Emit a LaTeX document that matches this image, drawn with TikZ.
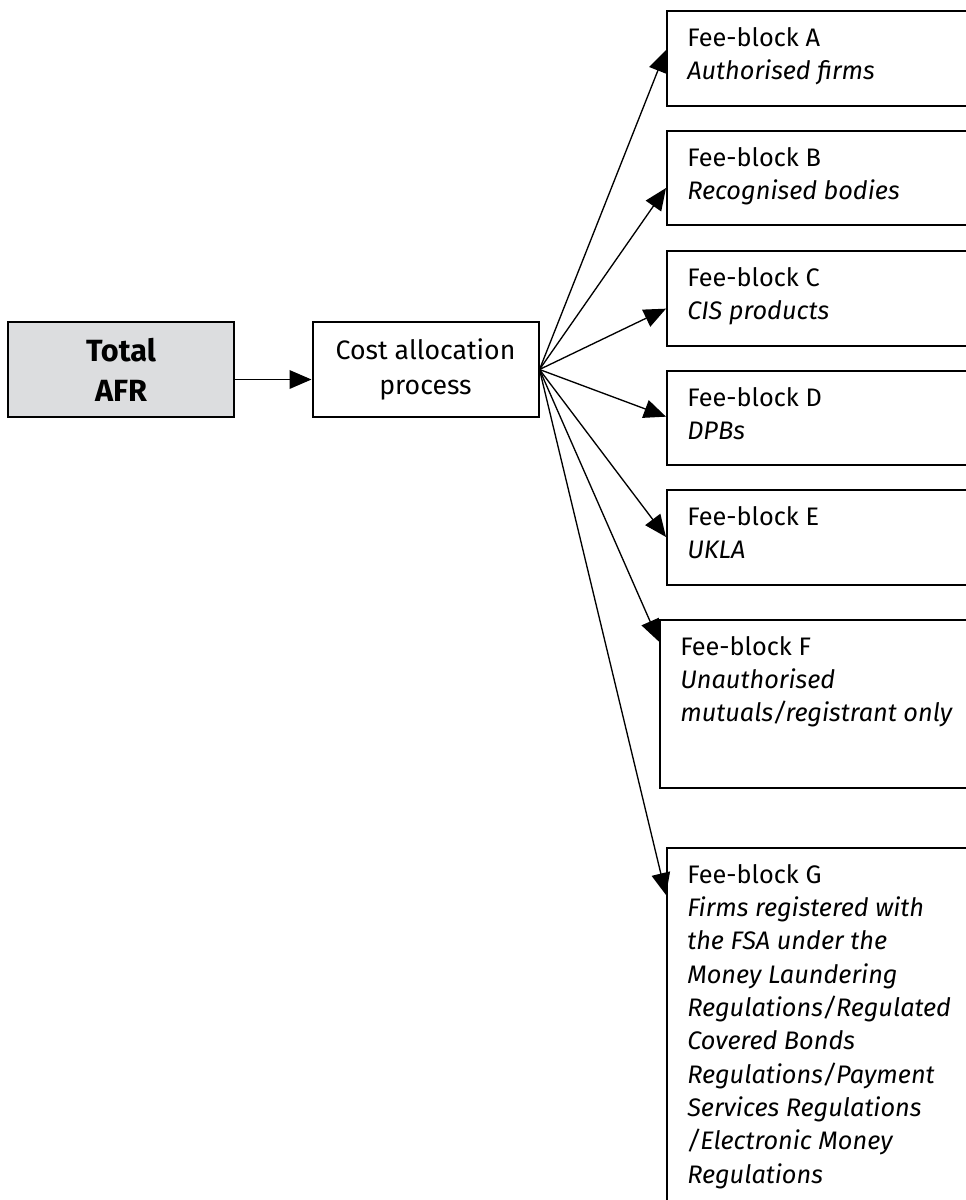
\documentclass[tikz,border=0pt]{standalone}
\usepackage{fontspec}
\setmainfont{Fira Sans}
\usetikzlibrary{arrows.meta}
\definecolor{afrgray}{RGB}{220,221,223}

\begin{document}
\begin{tikzpicture}
    [
    x=0.75pt,y=-0.75pt,
    afrbox/.style={draw,line width=1.5pt,fill=afrgray,minimum width=169.5pt,minimum height=71.25pt,align=center,font=\fontsize{23}{30}\selectfont\bfseries},
    procbox/.style={draw,line width=1.5pt,minimum width=169.5pt,minimum height=71.25pt,align=center,font=\fontsize{20}{26}\selectfont},
    feebox/.style={draw,line width=1.5pt,anchor=north west,minimum width=250pt,inner sep=0pt},
    feetext/.style={anchor=north west,align=left,inner sep=0pt,font=\fontsize{19}{25}\selectfont},
    flow/.style={line width=1pt,-{Triangle[length=16.5pt,width=14pt]}},
    ]
    \useasboundingbox (0,0) rectangle (966,1200);
    \clip (0,0) rectangle (966,1200);
    \node (total) at (121,369.5) [afrbox] {Total\\AFR};
    \node (cost) at (425.5,369.5) [procbox] {Cost allocation\\process};
    % fee-block boxes
    \node (feeA) at (666,10) [feebox,minimum height=71.25pt] {};
    \node (feeB) at (666,130) [feebox,minimum height=70.5pt] {};
    \node (feeC) at (666,250) [feebox,minimum height=71.25pt] {};
    \node (feeD) at (666,370) [feebox,minimum height=70.5pt] {};
    \node (feeE) at (666,489) [feebox,minimum height=71.25pt] {};
    \node (feeF) at (659,619) [feebox,minimum height=126pt] {};
    \node (feeG) at (666,847) [feebox,minimum height=290pt] {};
    \node (textA) at ([shift={(21,17)}]feeA.north west) [feetext] {Fee-block A\\\textit{Authorised firms}};
    \node (textB) at ([shift={(21,17)}]feeB.north west) [feetext] {Fee-block B\\\textit{Recognised bodies}};
    \node (textC) at ([shift={(21,17)}]feeC.north west) [feetext] {Fee-block C\\\textit{CIS products}};
    \node (textD) at ([shift={(21,17)}]feeD.north west) [feetext] {Fee-block D\\\textit{DPBs}};
    \node (textE) at ([shift={(21,17)}]feeE.north west) [feetext] {Fee-block E\\\textit{UKLA}};
    \node (textF) at ([shift={(21,17)}]feeF.north west) [feetext] {Fee-block F\\\textit{Unauthorised}\\\textit{mutuals/registrant only}};
    \node (textG) at ([shift={(21,17)}]feeG.north west) [feetext] {Fee-block G\\\textit{Firms registered with}\\\textit{the FSA under the}\\\textit{Money Laundering}\\\textit{Regulations/Regulated}\\\textit{Covered Bonds}\\\textit{Regulations/Payment}\\\textit{Services Regulations}\\\textit{/Electronic Money}\\\textit{Regulations}};
    \draw [flow] ([yshift=-7.5pt]total.east) to ([yshift=-7.5pt]cost.west);
    \draw [flow] (cost.east) to ([yshift=-30pt]feeA.north west);
    \draw [flow] (cost.east) to ([yshift=-43.5pt]feeB.north west);
    \draw [flow] (cost.east) to ([yshift=-44pt]feeC.north west);
    \draw [flow] (cost.east) to ([yshift=-35pt]feeD.north west);
    \draw [flow] (cost.east) to ([yshift=-36pt]feeE.north west);
    \draw [flow] (cost.east) to ([yshift=-17pt]feeF.north west);
    \draw [flow] (cost.east) to ([yshift=-36pt]feeG.north west);
  \end{tikzpicture}
\end{document}
